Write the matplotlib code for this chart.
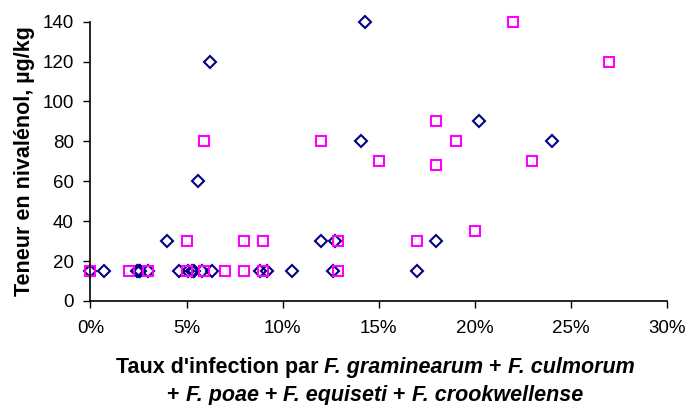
import matplotlib
matplotlib.use("Agg")
import matplotlib.pyplot as plt
from matplotlib.offsetbox import TextArea, HPacker, VPacker, AnchoredOffsetbox

# Données (taux en %, teneur en µg/kg)
losange_x = [0, 0.7, 2.4, 2.5, 2.6, 3.0, 4.6, 5.1, 5.3, 5.4, 5.8, 6.3, 8.8, 9.2, 10.5, 12.6, 17.0,
             4.0, 12.0, 12.7, 18.0,
             5.6, 6.2, 14.3, 14.1, 20.2, 24.0]
losange_y = [15, 15, 15, 15, 15, 15, 15, 15, 15, 15, 15, 15, 15, 15, 15, 15, 15,
             30, 30, 30, 30,
             60, 120, 140, 80, 90, 80]

carre_x = [0, 2.0, 3.0, 5.0, 5.9, 7.0, 8.0, 9.0, 12.9,
           5.0, 8.0, 9.0, 12.9, 17.0,
           5.9, 12.0, 15.0, 18.0, 18.0, 19.0, 20.0, 22.0, 27.0, 23.0]
carre_y = [15, 15, 15, 15, 15, 15, 15, 15, 15,
           30, 30, 30, 30, 30,
           80, 80, 70, 90, 68, 80, 35, 140, 120, 70]

x_ticks = [0, 5, 10, 15, 20, 25, 30]
x_labels = ["0%", "5%", "10%", "15%", "20%", "25%", "30%"]
y_ticks = [0, 20, 40, 60, 80, 100, 120, 140]

plt.rcParams['font.family'] = ['Liberation Sans', 'DejaVu Sans']

fig = plt.figure(figsize=(6.88, 4.05), dpi=100)
ax = fig.add_axes([0.1315, 0.257, 0.838, 0.6894])

ax.plot(losange_x, losange_y, 'D', ms=6.3, mfc='none', mec='#000080', mew=1.5, clip_on=False)
ax.plot(carre_x, carre_y, 's', ms=6.5, mfc='none', mec='#FF00FF', mew=1.5, clip_on=False)

ax.set_xlim(0, 30)
ax.set_ylim(0, 140)
ax.set_xticks(x_ticks)
ax.set_xticklabels(x_labels)
ax.set_yticks(y_ticks)
ax.tick_params(labelsize=13.5, length=5, width=1, pad=7)
ax.tick_params(axis='x', pad=9)
for s in ['top', 'right']:
    ax.spines[s].set_visible(False)
for s in ['left', 'bottom']:
    ax.spines[s].set_linewidth(1.2)

ax.set_ylabel("Teneur en nivalénol, µg/kg", fontsize=15.5, fontweight='bold', labelpad=5)

# titre de l'axe x : texte mixte gras / gras italique
def morceau(txt, italique=False):
    return TextArea(txt, textprops=dict(fontsize=15.5, fontweight='bold',
                                        fontstyle='italic' if italique else 'normal'))

ligne1 = HPacker(children=[morceau("Taux d'infection par "),
                           morceau("F. graminearum", True),
                           morceau(" + "),
                           morceau("F. culmorum", True)], pad=0, sep=0)
ligne2 = HPacker(children=[morceau("+ "),
                           morceau("F. poae", True),
                           morceau(" + "),
                           morceau("F. equiseti", True),
                           morceau(" + "),
                           morceau("F. crookwellense", True)], pad=0, sep=0)
bloc = VPacker(children=[ligne1, ligne2], align='center', pad=0, sep=5)
ab = AnchoredOffsetbox(loc='center', child=bloc, pad=0, frameon=False,
                       bbox_to_anchor=(0.545, 0.058), bbox_transform=fig.transFigure)
fig.add_artist(ab)

fig.savefig("out.png", dpi=100)
